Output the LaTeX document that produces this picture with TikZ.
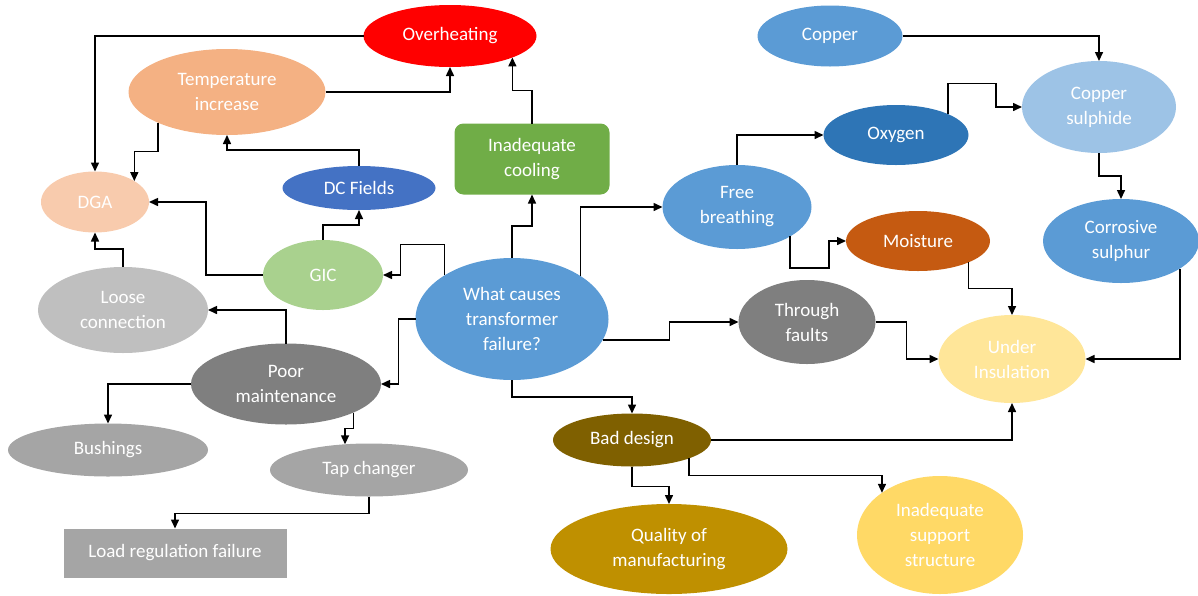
\documentclass[tikz,border=0pt]{standalone}
\usepackage{fontspec}
\setmainfont{Carlito}
\usetikzlibrary{shapes.geometric,arrows.meta}
\definecolor{cOver}{HTML}{FF0000}
\definecolor{cTemp}{HTML}{F4B183}
\definecolor{cDga}{HTML}{F8CBAD}
\definecolor{cDc}{HTML}{4472C4}
\definecolor{cCool}{HTML}{70AD47}
\definecolor{cGic}{HTML}{A9D18E}
\definecolor{cBlue}{HTML}{5B9BD5}
\definecolor{cLoose}{HTML}{BFBFBF}
\definecolor{cDark}{HTML}{7F7F7F}
\definecolor{cGray}{HTML}{A5A5A5}
\definecolor{cOxy}{HTML}{2E75B6}
\definecolor{cCps}{HTML}{9DC3E6}
\definecolor{cMoist}{HTML}{C55A11}
\definecolor{cUi}{HTML}{FFE699}
\definecolor{cBad}{HTML}{7F6000}
\definecolor{cQual}{HTML}{BF9000}
\definecolor{cSup}{HTML}{FFD966}
\tikzset{
  blob/.style={ellipse, inner sep=0pt, outer sep=0pt, text=white, align=center,
    font=\fontsize{19}{25}\selectfont},
  boxn/.style={rectangle, inner sep=0pt, outer sep=0pt, text=white, align=center,
    font=\fontsize{19}{25}\selectfont},
  arr/.style={draw=black, line width=1.5pt, -{Triangle[length=9pt,width=8pt]}}
}
\begin{document}
\begin{tikzpicture}[x=1pt,y=-1pt]
\useasboundingbox (0,0) rectangle (1198,595);
% nodes
\node[blob, fill=cOver, minimum width=173pt, minimum height=62pt] (over) at (450,36) {Overheating};
\node[blob, fill=cTemp, minimum width=197pt, minimum height=86pt] (temp) at (227,92) {Temperature\\increase};
\node[blob, fill=cDga, minimum width=108pt, minimum height=61pt] (dga) at (95,202) {DGA};
\node[blob, fill=cDc, minimum width=153pt, minimum height=44pt] (dc) at (359,188) {DC Fields};
\node[boxn, fill=cCool, rounded corners=9pt, minimum width=155pt, minimum height=71pt] (cool) at (532,159) {Inadequate\\cooling};
\node[blob, fill=cGic, minimum width=120pt, minimum height=70pt] (gic) at (323,275) {GIC};
\node[blob, fill=cBlue, minimum width=193pt, minimum height=122pt] (wc) at (512,319) {What causes\\transformer\\failure?};
\node[blob, fill=cLoose, minimum width=170pt, minimum height=86pt] (loose) at (123,310) {Loose\\connection};
\node[blob, fill=cDark, minimum width=190pt, minimum height=81pt] (pm) at (286,384) {Poor\\maintenance};
\node[blob, fill=cGray, minimum width=200pt, minimum height=53pt] (bush) at (108,450) {Bushings};
\node[blob, fill=cGray, minimum width=198pt, minimum height=53pt] (tap) at (369,470) {Tap changer};
\node[boxn, fill=cGray, minimum width=223pt, minimum height=49pt] (load) at (175,553) {Load regulation failure};
\node[blob, fill=cBlue, minimum width=145pt, minimum height=61pt] (copper) at (830,36) {Copper};
\node[blob, fill=cOxy, minimum width=145pt, minimum height=60pt] (oxy) at (896,135) {Oxygen};
\node[blob, fill=cCps, minimum width=154pt, minimum height=92pt] (cps) at (1099,107) {Copper\\sulphide};
\node[blob, fill=cBlue, minimum width=149pt, minimum height=84pt] (fb) at (737,207) {Free\\breathing};
\node[blob, fill=cMoist, minimum width=144pt, minimum height=60pt] (moist) at (918,241) {Moisture};
\node[blob, fill=cBlue, minimum width=156pt, minimum height=84pt] (cs) at (1121,241) {Corrosive\\sulphur};
\node[blob, fill=cDark, minimum width=137pt, minimum height=84pt] (tf) at (807,322) {Through\\faults};
\node[blob, fill=cUi, minimum width=147pt, minimum height=88pt] (ui) at (1012,359) {Under\\Insulation};
\node[blob, fill=cBad, minimum width=158pt, minimum height=53pt] (bad) at (632,440) {Bad design};
\node[blob, fill=cQual, minimum width=237pt, minimum height=90pt] (qual) at (669,549) {Quality of\\manufacturing};
\node[blob, fill=cSup, minimum width=166pt, minimum height=118pt] (sup) at (940,535) {Inadequate\\support\\structure};
% connectors
\draw[arr] (over.west) -| (dga.north);
\draw[arr] (temp.east) -| (over.south);
\draw[arr] (cool.north) -- ++(0,-33) -| (over.-19.2);
\draw[arr] (temp.-156.6) -- ++(0,29) -| (dga.28.3);
\draw[arr] (dc.north) -- ++(0,-16) -| (temp.south);
\draw[arr] (gic.north) -- ++(0,-15) -| (dc.south);
\draw[arr] (gic.west) -- ++(-57,0) |- (dga.east);
\draw[arr] (wc.147.5) -- ++(0,-31) -- ++(-44,0) |- (gic.east);
\draw[arr] (wc.north) -- ++(0,-32) -| (cool.south);
\draw[arr] (wc.32) |- (fb.west);
\draw[arr] (loose.north) -- ++(0,-18) -| (dga.south);
\draw[arr] (pm.north) |- (loose.east);
\draw[arr] (wc.west) -- ++(-17,0) |- (pm.east);
\draw[arr] (pm.west) -| (bush.north);
\draw[arr] (pm.-23.2) -- ++(0,16) -| (tap.133);
\draw[arr] (tap.south) -- ++(0,17) -| (load.north);
\draw[arr] (wc.south) -- ++(0,17) -| (bad.north);
\draw[arr] (wc.-13) -- ++(67,0) |- (tf.west);
\draw[arr] (tf.east) -- ++(31,0) |- (ui.west);
\draw[arr] (moist.-23.4) -- ++(0,26) -| (ui.north);
\draw[arr] (cs.-25) |- (ui.east);
\draw[arr] (bad.east) -| (ui.south);
\draw[arr] (bad.south) -- ++(0,20) -| (qual.north);
\draw[arr] (bad.-18.5) -- ++(0,17.3) -| (sup.144.9);
\draw[arr] (fb.north) |- (oxy.west);
\draw[arr] (fb.-29.1) -- ++(0,31.5) -- ++(39,0) |- (moist.west);
\draw[arr] (oxy.22.7) -- ++(0,-30.7) -- ++(48,0) |- (cps.west);
\draw[arr] (copper.east) -| (cps.north);
\draw[arr] (cps.south) -- ++(0,23) -| (cs.north);
\end{tikzpicture}
\end{document}
